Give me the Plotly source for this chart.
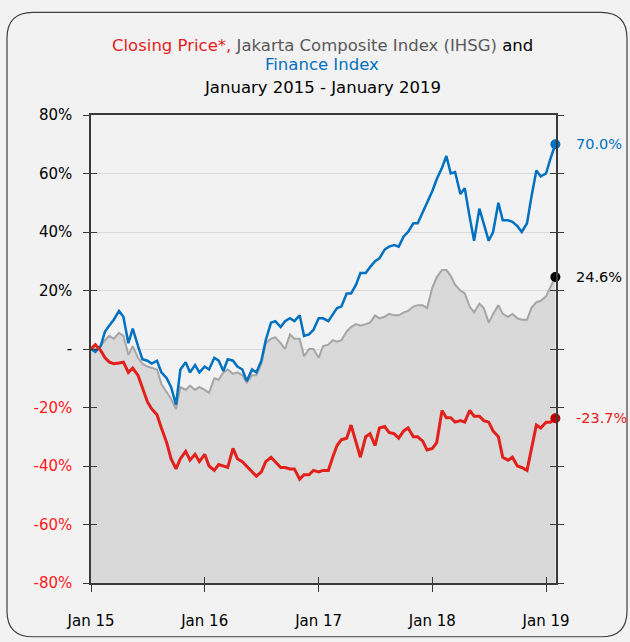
import plotly.graph_objects as go
import pandas as pd

# semi-monthly observation dates (1st and 15th), last point end of Jan 2019
dates = list(pd.date_range("2015-01-01", "2019-01-16", freq="SMS").strftime("%Y-%m-%d")) + ["2019-01-31"]

finance_index = [
    0, -1, 1, 6, 8, 10, 13, 11, 2, 7, 1, -3.5, -4, -5, -4, -8, -10, -13, -19, -7,
    -4.5, -8, -5.5, -8, -6, -7, -3, -4, -7.5, -3.5, -4, -6, -7, -11, -7, -8, -4, 3, 9, 9.5,
    7.5, 9.5, 10.5, 9.5, 11.5, 4.5, 5, 6.5, 10.5, 10.5, 9.5, 12, 14, 14.5, 19, 19, 22, 26, 26, 28,
    30, 31, 34, 35, 35.5, 35, 38.5, 40, 43, 43, 46.5, 50, 54, 58, 62, 66, 60, 60.5, 53, 55,
    45, 37, 48, 42.5, 37, 40, 50, 44, 44, 43.5, 42, 40, 43, 52, 61, 59, 60, 65, 70.0,
]

jci_index = [
    0, 0, 1, 3, 4.5, 3.5, 5.5, 4.5, -2, 1, -3, -5, -6, -6.5, -7, -12, -15, -17, -20.5, -13,
    -14, -12.5, -14, -13, -14, -15, -10, -10.5, -8, -7, -8.5, -8, -9, -11.5, -9, -9, -5, 2, 3.5, 4,
    2, 0, 5, 3.5, 3.5, -2.5, 0, 0, -3, 1, 1.5, 3, 2.5, 3, 6, 7.5, 8.5, 8, 8.5, 9,
    11.5, 10.5, 11, 12, 11.5, 11.5, 12.5, 13, 14.5, 15, 15, 14, 21, 24.5, 27, 27, 25, 22, 20, 19,
    14.5, 12.5, 15.5, 14, 9, 12, 15, 12, 11, 12, 10.5, 10, 10, 14, 16, 16.5, 18, 21, 24.6,
]

closing_price = [
    0, 1.5, -0.5, -3, -4.5, -5, -4.8, -4.5, -8, -6.5, -9, -13.5, -18, -20.5, -22.5, -27, -32, -37.5, -41, -37.5,
    -35, -38, -36, -38.5, -36, -40, -41.5, -39.5, -40, -40.5, -34, -37.5, -38.5, -40, -42, -43.5, -42, -38.5, -37, -38.5,
    -40.5, -40.5, -41, -41, -44.5, -43, -43, -41.5, -42, -41.5, -41.5, -37, -33, -31, -30.5, -26, -31.5, -37, -30, -29,
    -33, -27, -26.5, -28.5, -29, -30.5, -28, -27, -30, -30, -31.5, -34.5, -34, -32, -21, -23.5, -23.5, -25, -24.5, -25,
    -21, -23, -23, -24.5, -25, -28, -30, -37, -38, -37, -40, -40.5, -41.5, -34, -26, -27, -25, -25, -23.7,
]

y_ticks = [80, 60, 40, 20, 0, -20, -40, -60, -80]
y_tick_text = ["80%", "60%", "40%", "20%", "-",
               "<span style='color:#ff1a1a'>-20%</span>",
               "<span style='color:#ff1a1a'>-40%</span>",
               "<span style='color:#ff1a1a'>-60%</span>",
               "<span style='color:#ff1a1a'>-80%</span>"]
x_ticks = ["2015-01-01", "2016-01-01", "2017-01-01", "2018-01-01", "2019-01-01"]
x_tick_text = ["Jan 15", "Jan 16", "Jan 17", "Jan 18", "Jan 19"]
y_floor = -80

BLUE = "#0070c0"
RED = "#e3211c"
GRAY = "#a6a6a6"
FILL = "#d9d9d9"
FONT = "DejaVu Sans"
BG = "#f2f2f2"

fig = go.Figure()
fig.add_trace(go.Scatter(x=dates, y=[y_floor] * len(dates), mode="lines",
                         line=dict(width=0, color=FILL), hoverinfo="skip", showlegend=False))
fig.add_trace(go.Scatter(x=dates, y=jci_index, mode="lines", fill="tonexty", fillcolor=FILL,
                         line=dict(color=GRAY, width=2), name="JCI", showlegend=False))
fig.add_trace(go.Scatter(x=dates, y=finance_index, mode="lines",
                         line=dict(color=BLUE, width=2.5), name="Finance", showlegend=False))
fig.add_trace(go.Scatter(x=dates, y=closing_price, mode="lines",
                         line=dict(color=RED, width=3), name="Closing", showlegend=False))
# end markers
fig.add_trace(go.Scatter(x=[dates[-1]] * 3, y=[finance_index[-1], jci_index[-1], closing_price[-1]],
                         mode="markers", marker=dict(size=10, color=[BLUE, "#000000", "#c00000"]),
                         showlegend=False, hoverinfo="skip", cliponaxis=False))
# dummy trace for the overlay axes (inside ticks)
fig.add_trace(go.Scatter(x=[dates[0]], y=[0], xaxis="x2", yaxis="y2", mode="markers",
                         marker=dict(opacity=0), showlegend=False, hoverinfo="skip"))

end_labels = [("70.0%", finance_index[-1], BLUE), ("24.6%", jci_index[-1], "#000000"),
              ("-23.7%", closing_price[-1], "#e3211c")]
for txt, yv, col in end_labels:
    fig.add_annotation(x=dates[-1], y=yv, text=txt, showarrow=False, xanchor="left",
                       xshift=19, font=dict(family=FONT, size=14.5, color=col))

L, R, T, B = 91, 556, 115, 585
def px(v):
    return (v - L) / (R - L)
def py(v):
    return (B - v) / (B - T)

title_lines = [
    ("<span style='color:#e3211c'>Closing Price*,</span> "
     "<span style='color:#595959'>Jakarta Composite Index (IHSG)</span> "
     "<span style='color:#000000'>and</span>", 45.5),
    ("<span style='color:#0070c0'>Finance Index</span>", 64.5),
    ("<span style='color:#000000'>January 2015 - January 2019</span>", 87),
]
for txt, ypix in title_lines:
    fig.add_annotation(xref="paper", yref="paper", x=px(322), y=py(ypix), yanchor="middle",
                       xanchor="center", showarrow=False, text=txt,
                       font=dict(family=FONT, size=16.5))

# rounded outer frame
x0, x1, y0, y1, r = 7, 627, 12, 639, 26
path = (f"M {px(x0+r)},{py(y0)} L {px(x1-r)},{py(y0)} Q {px(x1)},{py(y0)} {px(x1)},{py(y0+r)} "
        f"L {px(x1)},{py(y1-r)} Q {px(x1)},{py(y1)} {px(x1-r)},{py(y1)} "
        f"L {px(x0+r)},{py(y1)} Q {px(x0)},{py(y1)} {px(x0)},{py(y1-r)} "
        f"L {px(x0)},{py(y0+r)} Q {px(x0)},{py(y0)} {px(x0+r)},{py(y0)} Z")
fig.add_shape(type="path", xref="paper", yref="paper", path=path,
              line=dict(color="#404040", width=1.2), layer="below")

axis_color = "#3a3a3a"
fig.update_layout(
    width=630, height=642,
    margin=dict(l=L, r=630 - R, t=T, b=642 - B),
    paper_bgcolor=BG, plot_bgcolor=BG,
    font=dict(family=FONT, size=15, color="#000000"),
    showlegend=False,
    xaxis=dict(type="date", range=["2015-01-01", "2019-02-02"], tickvals=x_ticks, ticktext=x_tick_text,
               ticks="outside", ticklen=7, tickcolor=axis_color, showgrid=False, zeroline=False,
               showline=True, linecolor=axis_color, linewidth=1.5, mirror=True,
               ticklabelstandoff=16, tickfont=dict(family=FONT, size=15, color="#000000")),
    xaxis2=dict(type="date", overlaying="x", range=["2015-01-01", "2019-02-02"], tickvals=x_ticks,
                ticks="inside", ticklen=6, tickcolor=axis_color, showticklabels=False,
                showgrid=False, zeroline=False, showline=False),
    yaxis=dict(range=[-80, 80], tickvals=y_ticks, ticktext=y_tick_text, ticks="outside", ticklen=6,
               tickcolor=axis_color, showgrid=True, gridcolor="#dadada", gridwidth=1, zeroline=False,
               showline=True, linecolor=axis_color, linewidth=1.5, mirror="ticks",
               ticklabelstandoff=8, tickfont=dict(family=FONT, size=15, color="#000000")),
    yaxis2=dict(overlaying="y", range=[-80, 80], tickvals=y_ticks, ticks="inside", ticklen=6,
                tickcolor=axis_color, showticklabels=False, showgrid=False, zeroline=False,
                showline=True, linecolor=axis_color, linewidth=1.5, mirror="ticks"),
)

fig.write_html("out.html", config={"displayModeBar": False},
               post_script="document.body.style.margin='0';document.body.style.background='#f2f2f2';")
